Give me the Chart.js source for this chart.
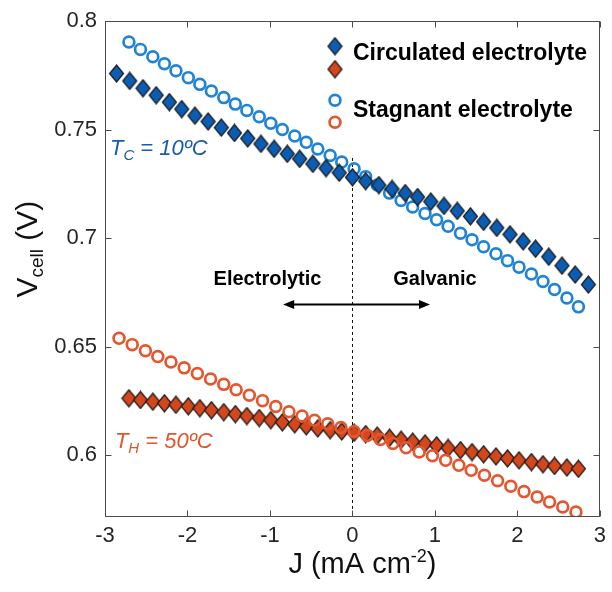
<!DOCTYPE html>
<html>
<head>
<meta charset="utf-8">
<script src="https://cdn.jsdelivr.net/npm/chart.js@4.4.1/dist/chart.umd.min.js"></script>
<style>
  html, body { margin: 0; padding: 0; background: #fff; }
  #chart { display: block; }
</style>
</head>
<body>
<canvas id="chart" width="612" height="592"></canvas>
<script>
// circulated electrolyte, cold side (blue diamonds)
const jCircCold = [-2.86, -2.70, -2.54, -2.38, -2.22, -2.07, -1.91, -1.75, -1.59, -1.43, -1.27, -1.11, -0.95, -0.79, -0.64, -0.48, -0.32, -0.16, 0.00,
  0.16, 0.32, 0.48, 0.64, 0.79, 0.95, 1.11, 1.27, 1.43, 1.59, 1.75, 1.91, 2.07, 2.22, 2.38, 2.54, 2.70, 2.86];
const vCircCold = [0.7759, 0.7725, 0.7691, 0.7659, 0.7627, 0.7595, 0.7565, 0.7538, 0.7510, 0.7485, 0.7460, 0.7435, 0.7412, 0.7389, 0.7366, 0.7343, 0.7323, 0.7302, 0.7281,
  0.7263, 0.7245, 0.7227, 0.7208, 0.7190, 0.7169, 0.7149, 0.7126, 0.7101, 0.7076, 0.7048, 0.7018, 0.6986, 0.6952, 0.6915, 0.6874, 0.6833, 0.6787];

// circulated electrolyte, hot side (orange diamonds)
const jCircHot = [-2.71, -2.57, -2.42, -2.28, -2.14, -1.99, -1.85, -1.71, -1.56, -1.42, -1.28, -1.13, -0.99, -0.85, -0.70, -0.56, -0.42, -0.27, -0.13, 0.02,
  0.16, 0.30, 0.45, 0.59, 0.73, 0.88, 1.02, 1.16, 1.31, 1.45, 1.59, 1.74, 1.88, 2.02, 2.17, 2.31, 2.45, 2.60, 2.74];
const vCircHot = [0.6263, 0.6255, 0.6247, 0.6240, 0.6233, 0.6226, 0.6217, 0.6208, 0.6199, 0.6190, 0.6181, 0.6172, 0.6162, 0.6152, 0.6143, 0.6134, 0.6124, 0.6116, 0.6110, 0.6104,
  0.6098, 0.6091, 0.6081, 0.6072, 0.6063, 0.6055, 0.6046, 0.6034, 0.6024, 0.6015, 0.6005, 0.5995, 0.5986, 0.5977, 0.5969, 0.5959, 0.5951, 0.5944, 0.5938];

// stagnant electrolyte, cold side (blue circles)
const jStagCold = [-2.71, -2.57, -2.42, -2.28, -2.14, -1.99, -1.85, -1.71, -1.56, -1.42, -1.28, -1.13, -0.99, -0.85, -0.70, -0.56, -0.42, -0.27, -0.13, 0.02,
  0.16, 0.30, 0.45, 0.59, 0.73, 0.88, 1.02, 1.16, 1.31, 1.45, 1.59, 1.74, 1.88, 2.02, 2.17, 2.31, 2.45, 2.60, 2.74];
const vStagCold = [0.7904, 0.7870, 0.7836, 0.7804, 0.7772, 0.7740, 0.7709, 0.7678, 0.7648, 0.7618, 0.7589, 0.7560, 0.7530, 0.7501, 0.7471, 0.7442, 0.7411, 0.7381, 0.7351, 0.7320,
  0.7284, 0.7245, 0.7208, 0.7174, 0.7144, 0.7114, 0.7085, 0.7055, 0.7023, 0.6993, 0.6961, 0.6929, 0.6897, 0.6867, 0.6835, 0.6801, 0.6764, 0.6725, 0.6684];

// stagnant electrolyte, hot side (orange circles)
const jStagHot = [-2.83, -2.67, -2.51, -2.36, -2.20, -2.04, -1.88, -1.72, -1.56, -1.41, -1.25, -1.09, -0.93, -0.77, -0.61, -0.46, -0.30, -0.14,
  0.02, 0.18, 0.34, 0.49, 0.65, 0.81, 0.97, 1.13, 1.29, 1.44, 1.60, 1.76, 1.92, 2.08, 2.24, 2.39, 2.55, 2.71];
const vStagHot = [0.6539, 0.6510, 0.6482, 0.6455, 0.6430, 0.6403, 0.6377, 0.6352, 0.6327, 0.6302, 0.6277, 0.6252, 0.6225, 0.6201, 0.6181, 0.6162, 0.6145, 0.6128,
  0.6110, 0.6092, 0.6073, 0.6055, 0.6035, 0.6016, 0.5998, 0.5977, 0.5954, 0.5931, 0.5908, 0.5883, 0.5858, 0.5833, 0.5808, 0.5785, 0.5762, 0.5739];

const xTicks = [-3, -2, -1, 0, 1, 2, 3];
const yTicks = [0.6, 0.65, 0.7, 0.75, 0.8];
const legendLabels = ["Circulated electrolyte", "Stagnant electrolyte"];

const FONT = '"Liberation Sans", Arial, Helvetica, sans-serif';
const BLUE_D = "#0b5db3", ORANGE_D = "#d4461b";
const BLUE_O = "#1f84d5", ORANGE_O = "#e4572e";
const RING_R = 5.4, RING_W = 2.7;

function diamond(fill) {
  const c = document.createElement("canvas");
  c.width = 17; c.height = 19;
  const g = c.getContext("2d");
  g.beginPath();
  g.moveTo(8.5, 1); g.lineTo(15.5, 9.5); g.lineTo(8.5, 18); g.lineTo(1.5, 9.5);
  g.closePath();
  g.fillStyle = fill; g.fill();
  g.lineWidth = 1.2; g.strokeStyle = "#1a1a1a"; g.stroke();
  return c;
}
const dBlue = diamond(BLUE_D), dOrange = diamond(ORANGE_D);

const pts = (xs, ys) => xs.map((x, i) => ({ x, y: ys[i] }));

// draws text made of runs (normal / sub / superscript)
function drawRuns(ctx, x, y, runs) {
  runs.forEach(r => {
    ctx.font = r.font;
    ctx.fillText(r.t, x, y + (r.dy || 0));
    x += ctx.measureText(r.t).width;
  });
}
function runsWidth(ctx, runs) {
  return runs.reduce((w, r) => { ctx.font = r.font; return w + ctx.measureText(r.t).width; }, 0);
}

const decor = {
  id: "decor",
  beforeDatasetsDraw(chart) {
    const { ctx, chartArea: a, scales: { x, y } } = chart;
    ctx.save();
    // dashed divider at J = 0
    ctx.strokeStyle = "#111"; ctx.lineWidth = 1; ctx.setLineDash([3, 3]);
    const x0 = Math.round(x.getPixelForValue(0)) + 0.5;
    ctx.beginPath(); ctx.moveTo(x0, y.getPixelForValue(0.737)); ctx.lineTo(x0, a.bottom); ctx.stroke();
    ctx.setLineDash([]);
    // double arrow
    const ay = Math.round(y.getPixelForValue(0.6697)) + 0.5;
    const xa = x.getPixelForValue(-0.84), xb = x.getPixelForValue(0.94);
    ctx.lineWidth = 2; ctx.strokeStyle = "#000"; ctx.fillStyle = "#000";
    ctx.beginPath(); ctx.moveTo(xa + 6, ay); ctx.lineTo(xb - 6, ay); ctx.stroke();
    ctx.beginPath(); ctx.moveTo(xa, ay); ctx.lineTo(xa + 11, ay - 4.5); ctx.lineTo(xa + 11, ay + 4.5); ctx.closePath(); ctx.fill();
    ctx.beginPath(); ctx.moveTo(xb, ay); ctx.lineTo(xb - 11, ay - 4.5); ctx.lineTo(xb - 11, ay + 4.5); ctx.closePath(); ctx.fill();
    ctx.font = "bold 20px " + FONT; ctx.textAlign = "center"; ctx.textBaseline = "middle";
    ctx.fillText("Electrolytic", x.getPixelForValue(-1.03), y.getPixelForValue(0.681));
    ctx.fillText("Galvanic", x.getPixelForValue(1.0), y.getPixelForValue(0.681));
    ctx.restore();
  },
  afterDraw(chart) {
    const { ctx, chartArea: a, scales: { x, y } } = chart;
    ctx.save();
    // box with inward ticks on all sides
    ctx.strokeStyle = "#4a4a4a"; ctx.lineWidth = 1;
    const L = Math.round(a.left) + 0.5, R = Math.round(a.right) - 0.5;
    const T = Math.round(a.top) + 0.5, B = Math.round(a.bottom) - 0.5;
    ctx.strokeRect(L, T, R - L, B - T);
    ctx.beginPath();
    xTicks.forEach(v => {
      const px = Math.round(x.getPixelForValue(v)) + 0.5;
      ctx.moveTo(px, B); ctx.lineTo(px, B - 6);
      ctx.moveTo(px, T); ctx.lineTo(px, T + 6);
    });
    yTicks.forEach(v => {
      const py = Math.round(y.getPixelForValue(v)) + 0.5;
      ctx.moveTo(L, py); ctx.lineTo(L + 6, py);
      ctx.moveTo(R, py); ctx.lineTo(R - 6, py);
    });
    ctx.stroke();

    // temperature labels
    ctx.textAlign = "left"; ctx.textBaseline = "alphabetic";
    ctx.fillStyle = "#1a5cac";
    drawRuns(ctx, x.getPixelForValue(-2.94), y.getPixelForValue(0.7382), [
      { t: "T", font: "italic 22px " + FONT },
      { t: "C", font: "italic 15px " + FONT, dy: 5 },
      { t: " = 10ºC", font: "italic 22px " + FONT }]);
    ctx.fillStyle = "#e0562a";
    drawRuns(ctx, x.getPixelForValue(-2.88), y.getPixelForValue(0.6032), [
      { t: "T", font: "italic 22px " + FONT },
      { t: "H", font: "italic 15px " + FONT, dy: 5 },
      { t: " = 50ºC", font: "italic 22px " + FONT }]);

    // legend (two markers per entry)
    const mx = a.left + 230;
    ctx.drawImage(dBlue, mx - 8.5, a.top + 25 - 9.5);
    ctx.drawImage(dOrange, mx - 8.5, a.top + 48 - 9.5);
    ctx.lineWidth = RING_W;
    ctx.strokeStyle = BLUE_O; ctx.beginPath(); ctx.arc(mx, a.top + 79, RING_R, 0, Math.PI * 2); ctx.stroke();
    ctx.strokeStyle = ORANGE_O; ctx.beginPath(); ctx.arc(mx, a.top + 101, RING_R, 0, Math.PI * 2); ctx.stroke();
    ctx.fillStyle = "#000"; ctx.font = "bold 23px " + FONT; ctx.textBaseline = "middle";
    ctx.fillText(legendLabels[0], a.left + 248, a.top + 32);
    ctx.fillText(legendLabels[1], a.left + 248, a.top + 89);

    // axis titles
    ctx.fillStyle = "#111"; ctx.textBaseline = "alphabetic";
    const xr = [
      { t: "J (mA cm", font: "29px " + FONT },
      { t: "-2", font: "18px " + FONT, dy: -11 },
      { t: ")", font: "29px " + FONT }];
    drawRuns(ctx, (a.left + a.right) / 2 + 10 - runsWidth(ctx, xr) / 2, 573, xr);
    const yr = [
      { t: "V", font: "30px " + FONT },
      { t: "cell", font: "19px " + FONT, dy: 6 },
      { t: " (V)", font: "30px " + FONT }];
    ctx.translate(37, (a.top + a.bottom) / 2 - 20);
    ctx.rotate(-Math.PI / 2);
    drawRuns(ctx, -runsWidth(ctx, yr) / 2, 0, yr);
    ctx.restore();
  }
};

new Chart(document.getElementById("chart"), {
  type: "scatter",
  data: {
    datasets: [
      { label: "Circulated (TC)", data: pts(jCircCold, vCircCold), pointStyle: dBlue, order: 1 },
      { label: "Stagnant (TC)", data: pts(jStagCold, vStagCold), pointStyle: "circle", pointRadius: RING_R, borderWidth: RING_W,
        borderColor: BLUE_O, backgroundColor: "rgba(0,0,0,0)", order: 2 },
      { label: "Circulated (TH)", data: pts(jCircHot, vCircHot), pointStyle: dOrange, order: 4 },
      { label: "Stagnant (TH)", data: pts(jStagHot, vStagHot), pointStyle: "circle", pointRadius: RING_R, borderWidth: RING_W,
        borderColor: ORANGE_O, backgroundColor: "rgba(0,0,0,0)", order: 3 }
    ]
  },
  options: {
    responsive: false, animation: false, events: [],
    layout: { padding: { top: 18, right: 7, left: 0, bottom: 0 } },
    plugins: { legend: { display: false }, tooltip: { enabled: false } },
    scales: {
      x: {
        type: "linear", min: -3, max: 3,
        afterBuildTicks: s => { s.ticks = xTicks.map(v => ({ value: v })); },
        afterFit: s => { s.height = 75; },
        grid: { display: false, drawTicks: false }, border: { display: false },
        ticks: { padding: 6, color: "#262626", font: { family: FONT, size: 22 }, callback: v => String(v) }
      },
      y: {
        type: "linear", min: 0.5716, max: 0.8,
        afterBuildTicks: s => { s.ticks = yTicks.map(v => ({ value: v })); },
        afterFit: s => { s.width = 105; },
        grid: { display: false, drawTicks: false }, border: { display: false },
        ticks: { padding: 8, color: "#262626", font: { family: FONT, size: 22 }, callback: v => String(v) }
      }
    }
  },
  plugins: [decor]
});
</script>
</body>
</html>
